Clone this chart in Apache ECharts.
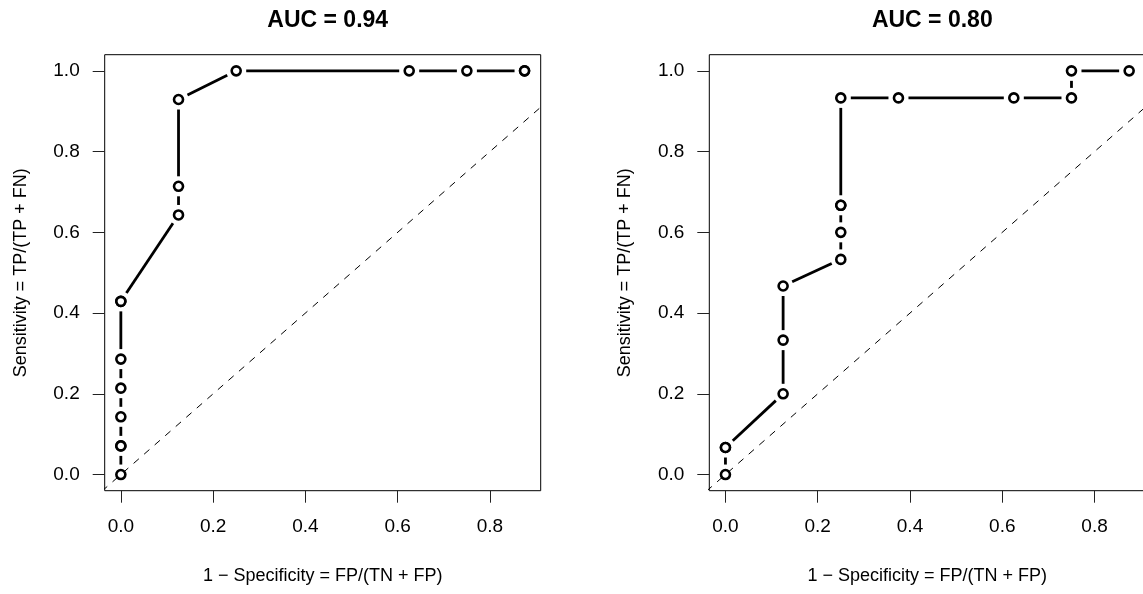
<!DOCTYPE html>
<html>
<head>
<meta charset="utf-8">
<script src="https://cdn.jsdelivr.net/npm/echarts@6/dist/echarts.min.js"></script>
<style>
html,body{margin:0;padding:0;background:#fff;}
#chart{width:1143px;height:594px;}
</style>
</head>
<body>
<div id="chart"></div>
<script>
// ---- data ----
const titles = ['AUC = 0.94', 'AUC = 0.80'];
const fprA = [0, 0, 0, 0, 0, 0, 0, 0, 0.125, 0.125, 0.125, 0.25, 0.625, 0.75, 0.875, 0.875];
const tprA = [0, 0.071, 0.071, 0.143, 0.214, 0.286, 0.429, 0.429, 0.643, 0.714, 0.929, 1, 1, 1, 1, 1];
const fprB = [0, 0, 0, 0.125, 0.125, 0.125, 0.25, 0.25, 0.25, 0.25, 0.25, 0.375, 0.625, 0.75, 0.75, 0.875];
const tprB = [0, 0.067, 0.067, 0.2, 0.333, 0.467, 0.533, 0.6, 0.667, 0.667, 0.933, 0.933, 0.933, 0.933, 1, 1];
const diagRef = [[-1, -1], [2, 2]];
const xTicks = [0, 0.2, 0.4, 0.6, 0.8];
const yTicks = [0, 0.2, 0.4, 0.6, 0.8, 1.0];
const xName = '1 \u2212 Specificity = FP/(TN + FP)';
const yName = 'Sensitivity = TP/(TP + FN)';

// ---- helpers ----
const FONT = "'Liberation Sans', Arial, Helvetica, sans-serif";
function pts(xs, ys) { return xs.map((x, i) => [x, ys[i]]); }
function segs(xs, ys) {
  const out = [];
  for (let i = 0; i < xs.length - 1; i++) out.push([xs[i], ys[i], xs[i + 1], ys[i + 1]]);
  return out;
}
function segRender(params, api) {
  const p1 = api.coord([api.value(0), api.value(1)]);
  const p2 = api.coord([api.value(2), api.value(3)]);
  const dx = p2[0] - p1[0], dy = p2[1] - p1[1];
  const L = Math.hypot(dx, dy);
  const gap = 10;
  if (L <= 2 * gap) return null;
  const ux = dx / L, uy = dy / L;
  return {
    type: 'line',
    shape: { x1: p1[0] + ux * gap, y1: p1[1] + uy * gap, x2: p2[0] - ux * gap, y2: p2[1] - uy * gap },
    style: { stroke: '#000', lineWidth: 2.8, lineCap: 'butt' }
  };
}

const lefts = [104.7, 709.3];
const W = 436, H = 436, TOP = 54.7;

function xAxis(i) {
  return {
    gridIndex: i, type: 'value', min: -0.035, max: 0.91,
    axisLine: { show: false, onZero: false }, splitLine: { show: false },
    axisTick: { show: true, inside: false, length: 12, customValues: xTicks, lineStyle: { color: '#222', width: 1 } },
    axisLabel: { customValues: xTicks, formatter: v => v.toFixed(1), margin: 27, fontSize: 19, color: '#000', fontFamily: FONT },
    name: xName, nameLocation: 'middle', nameGap: 76,
    nameTextStyle: { fontSize: 18, color: '#000', fontFamily: FONT }
  };
}
function yAxis(i) {
  return {
    gridIndex: i, type: 'value', min: -0.04, max: 1.04,
    axisLine: { show: false, onZero: false }, splitLine: { show: false },
    axisTick: { show: true, inside: false, length: 12, customValues: yTicks, lineStyle: { color: '#222', width: 1 } },
    axisLabel: { customValues: yTicks, formatter: v => v.toFixed(1), margin: 25, fontSize: 19, color: '#000', fontFamily: FONT },
    name: yName, nameLocation: 'middle', nameGap: 75,
    nameTextStyle: { fontSize: 18, color: '#000', fontFamily: FONT }
  };
}

const sets = [[fprA, tprA], [fprB, tprB]];
const series = [];
sets.forEach((s, i) => {
  series.push({
    type: 'line', xAxisIndex: i, yAxisIndex: i, data: diagRef, showSymbol: false, symbol: 'none',
    clip: true, silent: true, z: 1,
    lineStyle: { color: '#000', width: 1, type: [7, 7] }
  });
  series.push({
    type: 'custom', xAxisIndex: i, yAxisIndex: i, data: segs(s[0], s[1]),
    encode: { x: [0, 2], y: [1, 3] }, renderItem: segRender, silent: true, z: 2, clip: false
  });
  series.push({
    type: 'scatter', xAxisIndex: i, yAxisIndex: i, data: pts(s[0], s[1]),
    symbol: 'circle', symbolSize: 9, silent: true, z: 3,
    itemStyle: { color: '#fff', borderColor: '#000', borderWidth: 2.6, opacity: 1 }
  });
});

const option = {
  animation: false,
  backgroundColor: '#fff',
  title: titles.map((t, i) => ({
    text: t, left: lefts[i] + W / 2, top: 4, textAlign: 'center',
    textStyle: { fontSize: 23, fontWeight: 'bold', color: '#000', fontFamily: FONT }
  })),
  grid: lefts.map(l => ({
    left: l, top: TOP, width: W, height: H, show: true, borderColor: '#000', borderWidth: 1,
    backgroundColor: 'transparent', containLabel: false, outerBoundsMode: 'none'
  })),
  xAxis: [xAxis(0), xAxis(1)],
  yAxis: [yAxis(0), yAxis(1)],
  series: series
};

const chart = echarts.init(document.getElementById('chart'), null, { renderer: 'canvas' });
chart.setOption(option);
</script>
</body>
</html>
